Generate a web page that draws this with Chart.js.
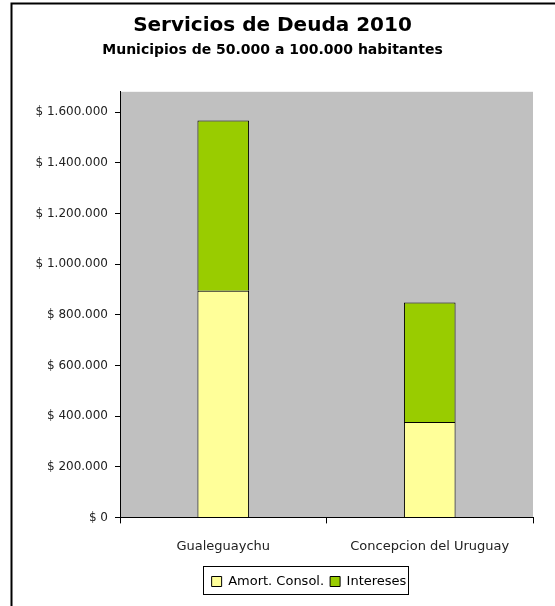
<!DOCTYPE html>
<html>
<head>
<meta charset="utf-8">
<script src="https://cdn.jsdelivr.net/npm/chart.js@4.4.1/dist/chart.umd.min.js"></script>
<style>
  html, body { margin: 0; padding: 0; background: #fff; }
  #wrap { width: 555px; height: 606px; }
</style>
</head>
<body>
<div id="wrap"><canvas id="deudaChart" width="555" height="606"></canvas></div>
<script>
// Servicios de Deuda 2010 - municipios 50k a 100k habitantes
const municipios = ["Gualeguaychu", "Concepcion del Uruguay"];
const amortConsol = [895000, 377000];
const intereses = [672000, 471000];
const yTickValues = [0, 200000, 400000, 600000, 800000, 1000000, 1200000, 1400000, 1600000];
const yMax = 1680000;

const FONT = "'DejaVu Sans', sans-serif";

function formatPesos(v) {
  return "$ " + String(v).replace(/\B(?=(\d{3})+(?!\d))/g, ".");
}

// gray plot background, outer frame, legend box
const frame = {
  id: "frame",
  afterLayout(chart) {
    // legend sits under the plot, a bit right of the canvas centre
    const lg = chart.legend;
    const dx = 309 - (lg.left + lg.right) / 2;
    lg.left += dx;
    lg.right += dx;
  },
  beforeDraw(chart) {
    const { ctx, chartArea: a } = chart;
    ctx.save();
    ctx.fillStyle = "#C0C0C0";
    ctx.fillRect(a.left, a.top, a.right - a.left, a.bottom - a.top);
    ctx.strokeStyle = "#000";
    ctx.lineWidth = 2;
    ctx.beginPath();
    ctx.moveTo(11.5, chart.height);
    ctx.lineTo(11.5, 3.5);
    ctx.lineTo(chart.width, 3.5);
    ctx.stroke();
    ctx.restore();
  },
  afterDraw(chart) {
    const boxes = chart.legend.legendHitBoxes;
    if (!boxes || !boxes.length) return;
    const first = boxes[0], last = boxes[boxes.length - 1];
    const { ctx } = chart;
    ctx.save();
    ctx.strokeStyle = "#000";
    ctx.lineWidth = 1;
    const x1 = Math.round(first.left) - 8.5;
    const x2 = Math.round(last.left + last.width) + 2.5;
    const y1 = Math.round(first.top) - 8.5;
    const y2 = Math.round(first.top + first.height) + 6.5;
    ctx.strokeRect(x1, y1, x2 - x1, y2 - y1);
    ctx.restore();
  }
};

new Chart(document.getElementById("deudaChart"), {
  type: "bar",
  data: {
    labels: municipios,
    datasets: [
      {
        label: "Amort. Consol.",
        data: amortConsol,
        backgroundColor: "#FFFF99",
        borderColor: "#000",
        borderWidth: 1
      },
      {
        label: "Intereses",
        data: intereses,
        backgroundColor: "#99CC00",
        borderColor: "#000",
        borderWidth: 1
      }
    ]
  },
  plugins: [frame],
  options: {
    responsive: false,
    animation: false,
    devicePixelRatio: 1,
    layout: { padding: { left: 12, right: 22, top: 8, bottom: 8 } },
    datasets: {
      bar: { barPercentage: 0.25, categoryPercentage: 1 }
    },
    scales: {
      x: {
        stacked: true,
        border: { color: "#000", width: 1 },
        grid: { offset: true, drawOnChartArea: false, color: "#000", tickLength: 6 },
        ticks: { color: "#222", padding: 15, font: { family: FONT, size: 13 } }
      },
      y: {
        stacked: true,
        min: 0,
        max: yMax,
        afterFit(scale) { scale.width = 108; },
        afterBuildTicks(scale) {
          scale.ticks = yTickValues.map(v => ({ value: v }));
        },
        border: { color: "#000", width: 1 },
        grid: { drawOnChartArea: false, color: "#000", tickLength: 5 },
        ticks: {
          color: "#222",
          padding: 7,
          font: { family: FONT, size: 12 },
          callback: v => formatPesos(v)
        }
      }
    },
    plugins: {
      title: {
        display: true,
        text: "Servicios de Deuda 2010",
        color: "#000",
        font: { family: FONT, size: 20, weight: "bold" },
        padding: { top: 6, bottom: 4 }
      },
      subtitle: {
        display: true,
        text: "Municipios de 50.000 a 100.000 habitantes",
        color: "#000",
        font: { family: FONT, size: 14, weight: "bold" },
        padding: { top: 0, bottom: 33 }
      },
      legend: {
        position: "bottom",
        labels: {
          color: "#000",
          boxWidth: 10,
          boxHeight: 10,
          padding: 6,
          font: { family: FONT, size: 13 }
        }
      },
      tooltip: { enabled: false }
    }
  }
});
</script>
</body>
</html>
